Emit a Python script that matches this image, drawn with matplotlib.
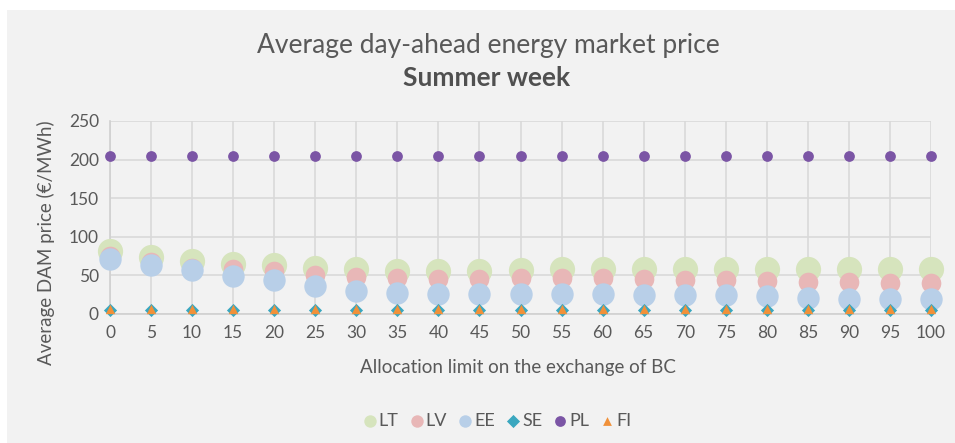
import matplotlib
matplotlib.use("Agg")
import matplotlib.pyplot as plt
from matplotlib.patches import Rectangle

plt.rcParams['font.family'] = ['Lato', 'DejaVu Sans']

x = [0, 5, 10, 15, 20, 25, 30, 35, 40, 45, 50, 55, 60, 65, 70, 75, 80, 85, 90, 95, 100]
LT = [82, 74, 69, 65, 63, 60, 58, 56, 56, 56, 57, 58, 58, 58, 58, 58, 58, 58, 58, 58, 58]
LV = [75, 67, 60, 58, 56, 50, 48, 46, 45, 45, 46, 47, 46, 45, 44, 44, 43, 42, 41, 40, 40]
EE = [71, 63, 57, 49, 44, 36, 30, 27, 26, 26, 26, 26, 26, 25, 24, 24, 23, 21, 20, 20, 19]
SE = [5] * 21
PL = [205] * 21
FI = [6] * 21

fig = plt.figure(figsize=(9.55, 4.43), dpi=100)
fig.patches.append(Rectangle((7/955, 0), 1, 1 - 10/443, transform=fig.transFigure,
                             facecolor='#f2f2f2', edgecolor='none', zorder=-10))
ax = fig.add_axes([110/955, 1 - 314/443, (931 - 110)/955, (314 - 121)/443])
ax.set_facecolor('#f2f2f2')

ax.scatter(x, LT, s=330, color='#d6e4bd', label='LT', zorder=3, linewidths=0)
ax.scatter(x, LV, s=200, color='#e8b7b7', label='LV', zorder=4, linewidths=0)
ax.scatter(x, EE, s=260, color='#b8cfe8', label='EE', zorder=5, linewidths=0)
ax.scatter(x, SE, s=45, marker='D', color='#3aa7bf', label='SE', zorder=6, linewidths=0)
ax.scatter(x, PL, s=60, color='#7b55a5', label='PL', zorder=6, linewidths=0)
ax.scatter(x, FI, s=45, marker='^', color='#f0913a', label='FI', zorder=7, linewidths=0)

ax.set_xlim(0, 100)
ax.set_ylim(0, 250)
ax.set_xticks(x)
ax.set_yticks(range(0, 251, 50))
ax.grid(True, color='#d9d9d9', linewidth=1.2, zorder=0)
ax.set_axisbelow(True)
for s in ['top', 'right']:
    ax.spines[s].set_visible(False)
for s in ['left', 'bottom']:
    ax.spines[s].set_color('#d0d0d0')
    ax.spines[s].set_linewidth(1.2)
ax.tick_params(length=0, labelsize=12.5, colors='#595959', pad=8)
for c in ax.collections:
    c.set_clip_on(False)

fig.text(488/955, 1 - 45/443, 'Average day-ahead energy market price', ha='center', va='center',
         fontsize=19, color='#595959')
fig.text(487/955, 1 - 78/443, 'Summer week', ha='center', va='center',
         fontsize=19, color='#505050', fontweight='bold')
fig.text(518/955, 1 - 368/443, 'Allocation limit on the exchange of BC', ha='center', va='center',
         fontsize=13.5, color='#595959')
fig.text(46/955, 1 - 243/443, 'Average DAM price (€/MWh)', ha='center', va='center',
         rotation=90, fontsize=13.5, color='#595959')

handles, labels = ax.get_legend_handles_labels()
leg = fig.legend(handles, labels, loc='center', bbox_to_anchor=(496/955, 1 - 421/443), ncol=6,
                 frameon=False, fontsize=13, labelcolor='#595959', handletextpad=0.0,
                 columnspacing=0.5, handlelength=1.0)
sizes = [80, 80, 80, 45, 60, 40]
for h, sz in zip(leg.legend_handles, sizes):
    h.set_sizes([sz])

fig.savefig('out.png', dpi=100, facecolor='white')
